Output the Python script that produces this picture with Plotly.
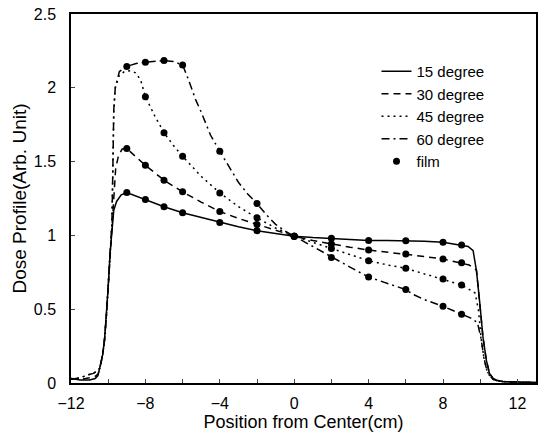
import plotly.graph_objects as go

# ---- curve data (Position from Center, cm) ----
x15 = [-12, -11.5, -11, -10.7, -10.55, -10.45, -10.3, -10.2, -10.1, -10.0, -9.9, -9.8, -9.7, -9.55, -9.3, -9.0,
       -8, -7, -6, -5, -4, -3, -2, -1, 0, 1, 2, 3, 4, 5, 6, 7, 8, 9, 9.35, 9.62, 9.8, 9.98, 10.15, 10.33, 10.5,
       10.7, 10.9, 11.2, 12, 13]
y15 = [0.03, 0.02, 0.02, 0.03, 0.05, 0.1, 0.19, 0.29, 0.45, 0.65, 0.88, 1.06, 1.17, 1.23, 1.275, 1.29,
       1.243, 1.194, 1.153, 1.12, 1.088, 1.058, 1.032, 1.013, 0.995, 0.985, 0.978, 0.972, 0.966, 0.965, 0.964, 0.96,
       0.953, 0.935, 0.925, 0.896, 0.76, 0.54, 0.31, 0.155, 0.065, 0.03, 0.018, 0.01, 0.005, 0.003]

x30 = [-12, -11.5, -11, -10.7, -10.55, -10.45, -10.3, -10.2, -10.1, -10.0, -9.9, -9.8, -9.7, -9.6, -9.45, -9.25, -9.0,
       -8, -7, -6, -5, -4, -3, -2, -1, 0, 1, 2, 3, 4, 5, 6, 7, 8, 9, 9.4, 9.8, 9.98, 10.15, 10.33, 10.5,
       10.7, 10.9, 11.2, 12, 13]
y30 = [0.03, 0.025, 0.035, 0.045, 0.06, 0.1, 0.19, 0.29, 0.45, 0.65, 0.88, 1.08, 1.3, 1.45, 1.54, 1.585, 1.588,
       1.475, 1.374, 1.295, 1.225, 1.162, 1.115, 1.074, 1.035, 0.995, 0.965, 0.941, 0.92, 0.901, 0.887, 0.874, 0.857,
       0.84, 0.815, 0.8, 0.765, 0.54, 0.31, 0.155, 0.065, 0.03, 0.018, 0.01, 0.005, 0.003]

x45 = [-12, -11.5, -11.1, -10.8, -10.6, -10.45, -10.3, -10.2, -10.1, -10.0, -9.9, -9.8, -9.75, -9.7, -9.62, -9.4,
       -9.1, -8.8, -8.5, -8.25, -8, -7.5, -7, -6.5, -6, -5, -4, -3, -2, -1, 0, 1, 2, 3, 4, 5, 6, 7, 8, 9, 9.4,
       9.72, 9.9, 10.05, 10.2, 10.35, 10.5, 10.7, 10.9, 11.2, 12, 13]
y45 = [0.025, 0.035, 0.055, 0.065, 0.08, 0.1, 0.19, 0.29, 0.45, 0.65, 0.88, 1.08, 1.45, 1.85, 2.0, 2.085,
       2.112, 2.115, 2.1, 2.05, 1.94, 1.81, 1.696, 1.61, 1.536, 1.4, 1.288, 1.195, 1.119, 1.05, 0.995, 0.955, 0.912,
       0.87, 0.829, 0.8, 0.777, 0.74, 0.705, 0.664, 0.635, 0.61, 0.5, 0.3, 0.17, 0.09, 0.05, 0.025, 0.015, 0.01,
       0.005, 0.003]

x60 = [-12, -11.5, -11.1, -10.8, -10.6, -10.45, -10.3, -10.2, -10.1, -10.0, -9.9, -9.8, -9.75, -9.7, -9.62, -9.4,
       -9.0, -8.5, -8, -7.5, -7, -6.5, -6, -5.7, -5.3, -5, -4.5, -4, -3.5, -3, -2.5, -2, -1.5, -1, -0.5, 0, 1, 2,
       3, 4, 5, 6, 6.4, 7, 8, 9, 9.5, 9.85, 10.05, 10.2, 10.35, 10.5, 10.7, 10.9, 11.2, 12, 13]
y60 = [0.025, 0.035, 0.055, 0.065, 0.08, 0.1, 0.19, 0.29, 0.45, 0.65, 0.88, 1.08, 1.45, 1.85, 2.0, 2.11,
       2.145, 2.165, 2.173, 2.18, 2.185, 2.178, 2.155, 2.06, 1.92, 1.835, 1.68, 1.57, 1.46, 1.36, 1.28, 1.216, 1.14,
       1.075, 1.03, 0.995, 0.92, 0.851, 0.785, 0.718, 0.675, 0.633, 0.6, 0.565, 0.52, 0.466, 0.44, 0.41, 0.3, 0.17,
       0.09, 0.05, 0.025, 0.015, 0.01, 0.005, 0.003]

# ---- film measurements ----
xf = [-9, -8, -7, -6, -4, -2, 0, 2, 4, 6, 8, 9]
f15 = [1.29, 1.243, 1.194, 1.153, 1.088, 1.032, 0.995, 0.98, 0.966, 0.964, 0.953, 0.935]
f30 = [1.588, 1.475, 1.374, 1.295, 1.162, 1.074, 0.995, 0.941, 0.901, 0.874, 0.84, 0.815]
xf45 = [-8, -7, -6, -4, -2, 0, 2, 4, 6, 8, 9]
f45 = [1.939, 1.696, 1.536, 1.288, 1.119, 0.995, 0.912, 0.829, 0.777, 0.705, 0.664]
f60 = [2.144, 2.173, 2.185, 2.155, 1.57, 1.216, 0.995, 0.851, 0.718, 0.633, 0.52, 0.466]

x_ticks = [-12, -10, -8, -6, -4, -2, 0, 2, 4, 6, 8, 10, 12]
x_labels = ["\u221212", "", "\u22128", "", "\u22124", "", "0", "", "4", "", "8", "", "12"]

FONT = "Liberation Sans, Arial, sans-serif"

fig = go.Figure()
series = [
    ("15 degree", x15, y15, "solid"),
    ("30 degree", x30, y30, "7px,5px"),
    ("45 degree", x45, y45, "2px,4px"),
    ("60 degree", x60, y60, "8px,4px,2px,4px"),
]
for name, xs, ys, dash in series:
    fig.add_trace(go.Scatter(x=xs, y=ys, mode="lines", name=name,
                             line=dict(color="black", width=1.5, dash=dash)))

fig.add_trace(go.Scatter(x=xf + xf + xf45 + xf, y=f15 + f30 + f45 + f60, mode="markers", name="film",
                         marker=dict(color="black", size=7)))

fig.update_layout(
    width=544, height=439,
    margin=dict(l=71, r=6, t=12, b=56),
    paper_bgcolor="white", plot_bgcolor="white",
    font=dict(family=FONT, size=16, color="black"),
    showlegend=True,
    legend=dict(x=0.657, y=0.889, xanchor="left", yanchor="top", bgcolor="rgba(0,0,0,0)",
                font=dict(size=15), tracegroupgap=0),
    xaxis=dict(range=[-12, 13], tickvals=x_ticks, ticktext=x_labels, ticks="inside", ticklen=4,
               tickwidth=1, showgrid=False, zeroline=False, showline=True, linecolor="black",
               linewidth=1.5, mirror=True, ticklabelstandoff=5,
               title=dict(text="Position from Center(cm)", font=dict(size=18), standoff=4)),
    yaxis=dict(range=[0, 2.5], dtick=0.5, tick0=0, ticks="inside", ticklen=4, tickwidth=1,
               showgrid=False, zeroline=False, showline=True, linecolor="black", linewidth=1.5,
               mirror=True, ticklabelstandoff=10,
               title=dict(text="Dose Profile(Arb. Unit)", font=dict(size=19), standoff=2)),
)

fig.write_html("out.html")
